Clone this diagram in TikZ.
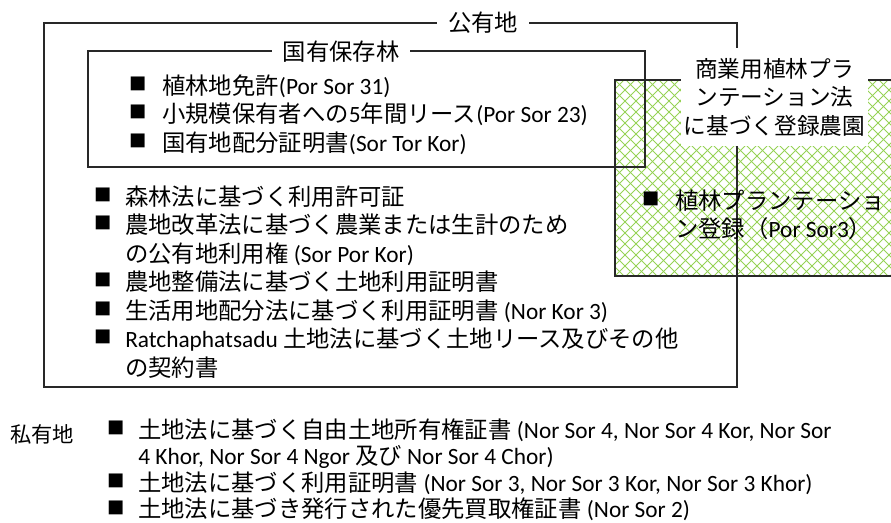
\documentclass[tikz,border=0pt]{standalone}
\usepackage{fontspec}
\setmainfont{Carlito}
\newfontfamily\jp{Noto Sans CJK JP}
\newcommand\J[1]{{\jp #1}}
\definecolor{hatchgreen}{RGB}{150,210,85}
\definecolor{boxline}{RGB}{40,40,40}
\begin{document}
\begin{tikzpicture}[x=0.75pt,y=-0.75pt,
  item/.style={anchor=base west, inner sep=0pt, font=\fontsize{17.5}{21}\selectfont},
  title/.style={anchor=center, fill=white, inner xsep=8pt, inner ysep=2pt, font=\fontsize{17.5}{21}\selectfont\jp},
  bul/.style={anchor=center, inner sep=0pt, font=\fontsize{13}{13}\selectfont\jp},
  frame/.style={draw=boxline, line width=0.9pt},
  hatchline/.style={draw=hatchgreen, line width=0.65pt}]
\useasboundingbox (0,0) rectangle (891,522);
% hatched area
\begin{scope}
  \clip (615,80) rectangle (891,276);
  \foreach \a in {415,426,...,1100} {
    \draw[hatchline] (\a,80) -- ++(-196,196);
    \draw[hatchline] (\a-196,80) -- ++(196,196);
  }
\end{scope}
\draw[frame] (891,80) -- (615,80) -- (615,276) -- (891,276);
% outer public land box
\draw[frame] (44,23) rectangle (737,387);
% inner reserved forest box
\draw[frame] (88,51) rectangle (645,167);
% titles
\node[title] (pub) at (483,23) {公有地};
\node[title] (nrf) at (341,52) {国有保存林};
\node[fill=white, inner sep=0pt, minimum width=140.25pt, minimum height=73.5pt, align=center,
      font=\fontsize{17}{21.4}\selectfont\jp] (cpl) at (774.5,97) {商業用植林プラ\\ンテーション法\\に基づく登録農園};
% inner items
\node[bul] (ib1) at (138.5,83.5) {■};
\node[item] (it1) at (162,94) {\J{植林地免許}(Por Sor 31)};
\node[bul] (ib2) at (138.5,112) {■};
\node[item] (it2) at (162,122.5) {\J{小規模保有者への}5\J{年間リース}(Por Sor 23)};
\node[bul] (ib3) at (138.5,140.5) {■};
\node[item] (it3) at (162,151) {\J{国有地配分証明書}(Sor Tor Kor)};
% outer items
\node[bul] (ob1) at (103.5,194.5) {■};
\node[item] (ot1) at (125,205) {\J{森林法に基づく利用許可証}};
\node[bul] (ob2) at (103.5,223) {■};
\node[item] (ot2) at (125,233.5) {\J{農地改革法に基づく農業または生計のため}};
\node[item] (ot2b) at (125,262) {\J{の公有地利用権} (Sor Por Kor)};
\node[bul] (ob3) at (103.5,280) {■};
\node[item] (ot3) at (125,290.5) {\J{農地整備法に基づく土地利用証明書}};
\node[bul] (ob4) at (103.5,308.5) {■};
\node[item] (ot4) at (125,319) {\J{生活用地配分法に基づく利用証明書} (Nor Kor 3)};
\node[bul] (ob5) at (103.5,337) {■};
\node[item] (ot5) at (125,347.5) {Ratchaphatsadu \J{土地法に基づく土地リース及びその他}};
\node[item] (ot5b) at (125,376) {\J{の契約書}};
% plantation item
\node[bul] (pb1) at (651.5,198.5) {■};
\node[item] (pt1) at (675,209) {\J{植林プランテーショ}};
\node[item] (pt1b) at (675,237) {\J{ン登録（}Por Sor3\J{）}};
% private land
\node[anchor=base west, inner sep=0pt, font=\fontsize{16}{20}\selectfont\jp] (pri) at (10,442) {私有地};
\node[bul] (vb1) at (116.5,428) {■};
\node[item] (vt1) at (138,438) {\J{土地法に基づく自由土地所有権証書} (Nor Sor 4, Nor Sor 4 Kor, Nor Sor};
\node[item] (vt1b) at (138,464.5) {4 Khor, Nor Sor 4 Ngor \J{及び} Nor Sor 4 Chor)};
\node[bul] (vb2) at (116.5,481) {■};
\node[item] (vt2) at (138,491) {\J{土地法に基づく利用証明書} (Nor Sor 3, Nor Sor 3 Kor, Nor Sor 3 Khor)};
\node[bul] (vb3) at (116.5,507.5) {■};
\node[item] (vt3) at (138,517.5) {\J{土地法に基づき発行された優先買取権証書} (Nor Sor 2)};
\end{tikzpicture}
\end{document}
